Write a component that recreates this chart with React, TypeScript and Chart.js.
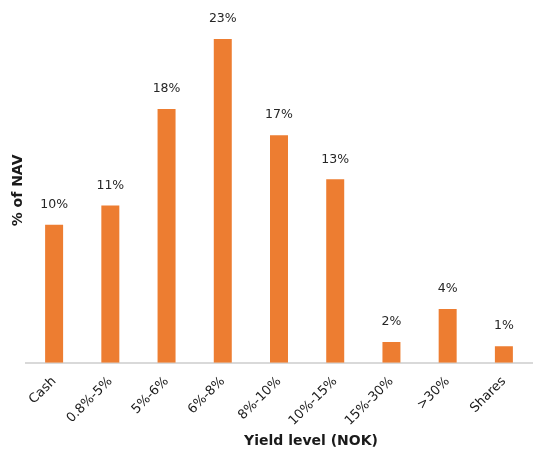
import React, { useEffect, useRef } from "react";
import { Chart, registerables } from "chart.js";

Chart.register(...registerables);

const categories = ["Cash", "0.8%-5%", "5%-6%", "6%-8%", "8%-10%", "10%-15%", "15%-30%", ">30%", "Shares"];
const values = [10.0, 11.4, 18.4, 23.48, 16.5, 13.3, 1.5, 3.9, 1.2];
const yTitle = "% of NAV";
const xTitle = "Yield level (NOK)";

const FONT = "'DejaVu Sans', sans-serif";

const labelPlugin = {
  id: "barLabels",
  afterDatasetsDraw(chart: any) {
    const ctx = chart.ctx;
    const meta = chart.getDatasetMeta(0);
    ctx.save();
    ctx.font = `12.5px ${FONT}`;
    ctx.fillStyle = "#262626";
    ctx.textAlign = "center";
    ctx.textBaseline = "middle";
    meta.data.forEach((bar: any, i: number) => {
      ctx.fillText(Math.round(values[i]) + "%", bar.x, bar.y - 20);
    });
    ctx.restore();
  },
};

const titlesPlugin = {
  id: "axisTitles",
  afterDraw(chart: any) {
    const ctx = chart.ctx;
    const area = chart.chartArea;
    ctx.save();
    ctx.font = `bold 14px ${FONT}`;
    ctx.fillStyle = "#1a1a1a";
    ctx.textAlign = "center";
    ctx.textBaseline = "middle";
    ctx.fillText(xTitle, (area.left + area.right) / 2 + 32, 441);
    ctx.translate(18, (area.top + area.bottom) / 2);
    ctx.rotate(-Math.PI / 2);
    ctx.fillText(yTitle, 0, 0);
    ctx.restore();
  },
};

export default function App() {
  const ref = useRef<HTMLCanvasElement>(null);
  useEffect(() => {
    if (!ref.current) return;
    const chart = new Chart(ref.current, {
      type: "bar",
      data: {
        labels: categories,
        datasets: [
          {
            data: values,
            backgroundColor: "#ED7D31",
            categoryPercentage: 1,
            barPercentage: 0.32,
          },
        ],
      },
      options: {
        animation: false,
        responsive: false,
        maintainAspectRatio: false,
        layout: { padding: { top: 18, right: 2, bottom: 25, left: 2 } },
        plugins: { legend: { display: false }, tooltip: { enabled: false } },
        scales: {
          x: {
            grid: { display: false },
            border: { display: true, color: "#d9d9d9", width: 2 },
            ticks: {
              color: "#1a1a1a",
              font: { family: FONT, size: 13 },
              maxRotation: 45,
              minRotation: 45,
              padding: 3,
            },
          },
          y: {
            min: 0,
            max: 25,
            grid: { display: false },
            border: { display: false },
            ticks: { display: false },
            afterFit(scale: any) {
              scale.width = 24;
            },
          },
        },
      },
      plugins: [labelPlugin, titlesPlugin],
    });
    return () => chart.destroy();
  }, []);
  return (
    <div style={{ position: "fixed", left: 0, top: 0, width: 534, height: 457, background: "#fff" }}>
      <canvas ref={ref} width={534} height={457} style={{ width: 534, height: 457 }} />
    </div>
  );
}
